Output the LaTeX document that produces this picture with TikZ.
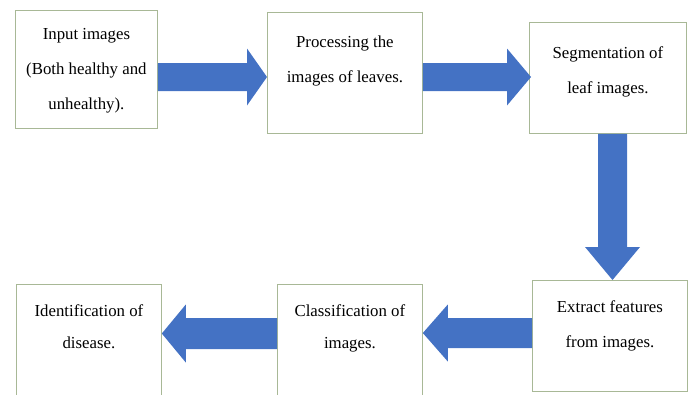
\documentclass[tikz,border=0pt]{standalone}
\usepackage{fontspec}
\setmainfont{Liberation Serif}
\usetikzlibrary{calc}
\definecolor{arrblue}{RGB}{68,114,196}
\definecolor{boxline}{RGB}{168,184,150}
\begin{document}
\begin{tikzpicture}[x=1bp,y=-1bp,
  box/.style={draw=boxline, line width=0.8bp, fill=white, rectangle, inner sep=0pt, anchor=north west},
  txt/.style={inner sep=0pt, anchor=north, align=center, font=\fontsize{16.8bp}{35bp}\selectfont},
  txtb/.style={txt, font=\fontsize{16.8bp}{32bp}\selectfont},
  arr/.style={fill=arrblue, draw=none}]
\useasboundingbox (0,0) rectangle (691,394);
\clip (0,0) rectangle (691,394);
% boxes
\node[box, minimum width=142bp, minimum height=118bp] (b1) at (15,10) {};
\node[box, minimum width=155bp, minimum height=121bp] (b2) at (267,12) {};
\node[box, minimum width=157bp, minimum height=111bp] (b3) at (529,22) {};
\node[box, minimum width=155bp, minimum height=111bp] (b4) at (532,280) {};
\node[box, minimum width=145bp, minimum height=114bp] (b5) at (277,284) {};
\node[box, minimum width=145bp, minimum height=114bp] (b6) at (16,284) {};
% texts
\node[txt] (t1) at (b1.north |- 0,27.9) {Input images\\(Both healthy and\\unhealthy).};
\node[txt] (t2) at (b2.north |- 0,35.5) {Processing the\\images of leaves.};
\node[txt] (t3) at (b3.north |- 0,46.5) {Segmentation of\\leaf images.};
\node[txt] (t4) at (b4.north |- 0,300.5) {Extract features\\from images.};
\node[txtb] (t5) at (b5.north |- 0,304.5) {Classification of\\images.};
\node[txtb] (t6) at (b6.north |- 0,304.5) {Identification of\\disease.};
% arrow 1: b1 -> b2
\coordinate (s1) at (b1.east |- 0,77);
\coordinate (e1) at (b2.west |- 0,77);
\fill[arr] ($(s1)+(0,-14)$) -- ($(e1)+(-20,-14)$) -- ($(e1)+(-20,-28.5)$) -- (e1)
  -- ($(e1)+(-20,28.5)$) -- ($(e1)+(-20,14)$) -- ($(s1)+(0,14)$) -- cycle;
% arrow 2: b2 -> b3
\coordinate (s2) at (b2.east |- 0,77);
\coordinate (e2) at (b3.west |- 0,77);
\fill[arr] ($(s2)+(0,-14)$) -- ($(e2)+(-22,-14)$) -- ($(e2)+(-22,-28.5)$) -- ($(e2)+(2,0)$)
  -- ($(e2)+(-22,28.5)$) -- ($(e2)+(-22,14)$) -- ($(s2)+(0,14)$) -- cycle;
% arrow 3: b3 -> b4
\coordinate (s3) at (b3.south -| 612.5,0);
\coordinate (e3) at (b4.north -| 612.5,0);
\fill[arr] ($(s3)+(-14.5,0)$) -- ($(e3)+(-14.5,-33)$) -- ($(e3)+(-27.5,-33)$) -- (e3)
  -- ($(e3)+(27.5,-33)$) -- ($(e3)+(14.5,-33)$) -- ($(s3)+(14.5,0)$) -- cycle;
% arrow 4: b4 -> b5
\coordinate (s4) at (b4.west |- 0,333);
\coordinate (e4) at (b5.east |- 0,333);
\fill[arr] ($(s4)+(0,-15)$) -- ($(e4)+(25,-15)$) -- ($(e4)+(25,-28.5)$) -- (e4)
  -- ($(e4)+(25,28.5)$) -- ($(e4)+(25,15)$) -- ($(s4)+(0,15)$) -- cycle;
% arrow 5: b5 -> b6
\coordinate (s5) at (b5.west |- 0,333.5);
\coordinate (e5) at (b6.east |- 0,333.5);
\fill[arr] ($(s5)+(0,-15.5)$) -- ($(e5)+(24,-15.5)$) -- ($(e5)+(24,-29)$) -- (e5)
  -- ($(e5)+(24,29)$) -- ($(e5)+(24,15.5)$) -- ($(s5)+(0,15.5)$) -- cycle;
\end{tikzpicture}
\end{document}
